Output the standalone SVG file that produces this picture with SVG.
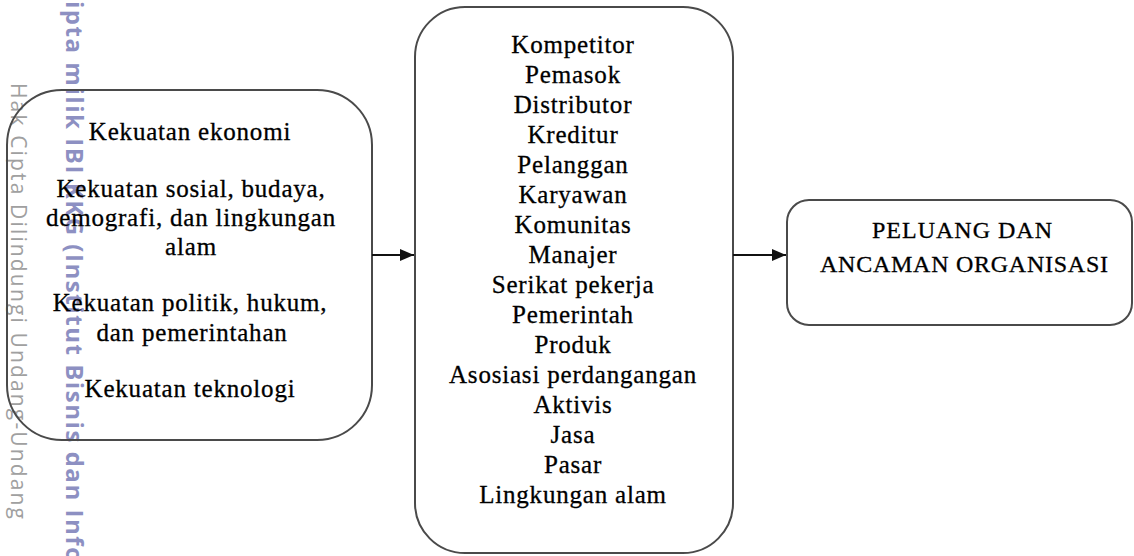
<svg xmlns="http://www.w3.org/2000/svg" width="1134" height="556" viewBox="0 0 1134 556">
<defs>
<style>
.box{fill:none;stroke:#4a4a4a;stroke-width:2}
.t{font-family:"Liberation Serif","Times New Roman",serif;font-size:25px;fill:#000;stroke:#000;stroke-width:0.3;text-anchor:middle;letter-spacing:0.8px}
.c{font-family:"Liberation Serif","Times New Roman",serif;font-size:24px;fill:#000;stroke:#000;stroke-width:0.3;text-anchor:middle}
.wm1{font-family:"Open Sans","Noto Sans",sans-serif;font-size:21px;fill:#a0a0a0}
.wm2{font-family:"Open Sans","Noto Sans",sans-serif;font-size:24px;font-weight:bold;fill:#8d90c2}
.conn{stroke:#111;stroke-width:2;fill:none}
</style>
<marker id="arr" markerWidth="14" markerHeight="12" refX="14" refY="6" orient="auto" markerUnits="userSpaceOnUse">
<path d="M0,0 L14,6 L0,12 Z" fill="#111"/>
</marker>
</defs>
<rect width="1134" height="556" fill="#fff"/>
<g id="watermark">
<text class="wm1" transform="translate(11,83) rotate(90)" x="0" y="0" textLength="436" lengthAdjust="spacing">Hak Cipta Dilindungi Undang-Undang</text>
<text class="wm2" transform="translate(66,1) rotate(90)" x="0" y="0" textLength="561" lengthAdjust="spacing">ipta milik IBI KKG (Institut Bisnis dan Info</text>
</g>
<g id="node-kekuatan">
<rect class="box" x="7" y="90" width="365" height="350" rx="55" ry="55"/>
<text class="t" x="190" y="140">Kekuatan ekonomi</text>
<text class="t" x="191" y="197">Kekuatan sosial, budaya,</text>
<text class="t" x="191" y="226">demografi, dan lingkungan</text>
<text class="t" x="191" y="255">alam</text>
<text class="t" x="190" y="311">Kekuatan politik, hukum,</text>
<text class="t" x="192" y="341">dan pemerintahan</text>
<text class="t" x="190" y="397">Kekuatan teknologi</text>
</g>
<g id="node-lingkungan">
<rect class="box" x="415" y="7" width="318" height="546" rx="50" ry="50"/>
<text class="t" x="573" y="53">Kompetitor</text>
<text class="t" x="573" y="83">Pemasok</text>
<text class="t" x="573" y="113">Distributor</text>
<text class="t" x="573" y="143">Kreditur</text>
<text class="t" x="573" y="173">Pelanggan</text>
<text class="t" x="573" y="203">Karyawan</text>
<text class="t" x="573" y="233">Komunitas</text>
<text class="t" x="573" y="263">Manajer</text>
<text class="t" x="573" y="293">Serikat pekerja</text>
<text class="t" x="573" y="323">Pemerintah</text>
<text class="t" x="573" y="353">Produk</text>
<text class="t" x="573" y="383">Asosiasi perdangangan</text>
<text class="t" x="573" y="413">Aktivis</text>
<text class="t" x="573" y="443">Jasa</text>
<text class="t" x="573" y="473">Pasar</text>
<text class="t" x="573" y="503">Lingkungan alam</text>
</g>
<g id="node-peluang">
<rect class="box" x="787" y="200" width="345" height="125" rx="22" ry="22"/>
<text class="c" x="962" y="238" textLength="180" lengthAdjust="spacing">PELUANG DAN</text>
<text class="c" x="964" y="272" textLength="288" lengthAdjust="spacing">ANCAMAN ORGANISASI</text>
</g>
<g id="connectors">
<line class="conn" x1="372" y1="255" x2="414" y2="255" marker-end="url(#arr)"/>
<line class="conn" x1="733" y1="255" x2="786" y2="255" marker-end="url(#arr)"/>
</g>
</svg>
